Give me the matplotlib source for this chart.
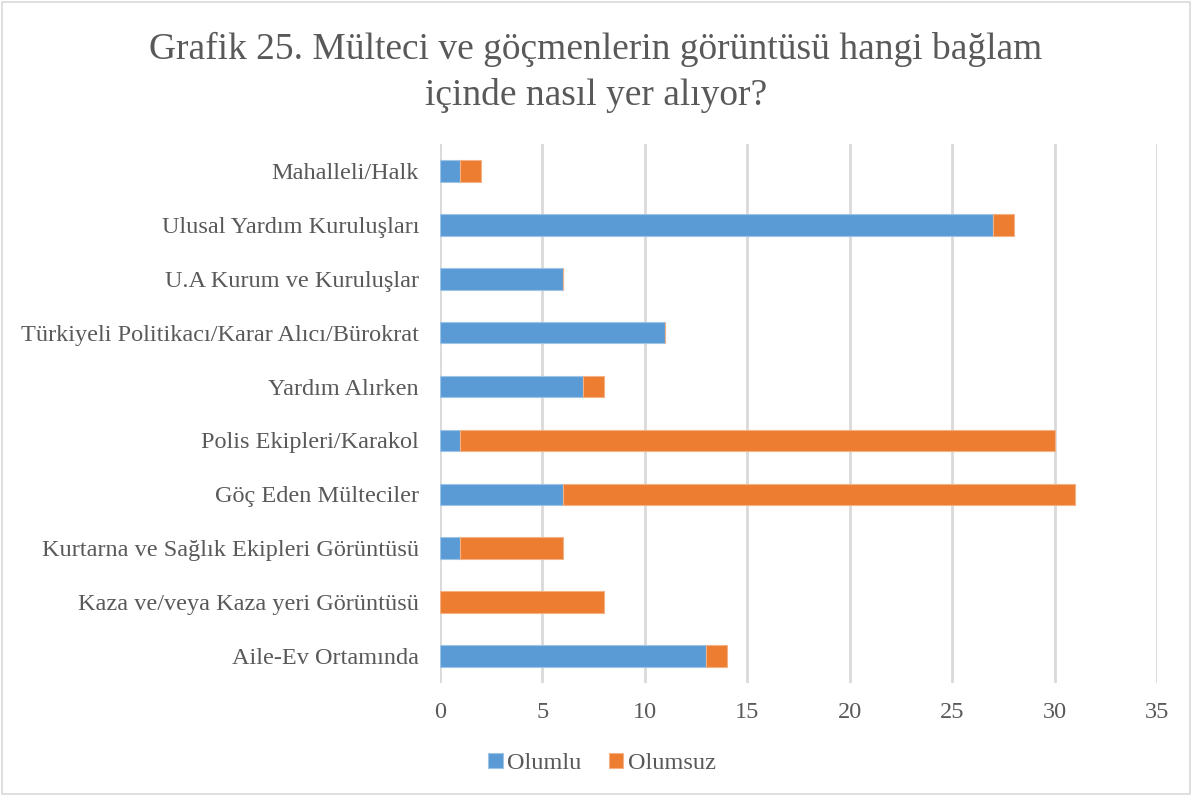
import numpy as np
import matplotlib.pyplot as plt

# Veriler (alttan üste)
kategoriler = ['Aile-Ev Ortamında', 'Kaza ve/veya Kaza yeri Görüntüsü',
               'Kurtarna ve Sağlık Ekipleri Görüntüsü', 'Göç Eden Mülteciler',
               'Polis Ekipleri/Karakol', 'Yardım Alırken',
               'Türkiyeli Politikacı/Karar Alıcı/Bürokrat', 'U.A Kurum ve Kuruluşlar',
               'Ulusal Yardım Kuruluşları', 'Mahalleli/Halk']
olumlu = [13, 0, 1, 6, 1, 7, 11, 6, 27, 1]
olumsuz = [1, 8, 5, 25, 29, 1, 0, 0, 1, 1]

plt.rcParams['font.family'] = ['Liberation Serif', 'DejaVu Serif']
metin_renk = '#595959'

fig = plt.figure(figsize=(11.92, 7.96), dpi=100)
ax = fig.add_axes([0.369, 0.142, 0.6016, 0.677])

y = np.arange(len(kategoriler))
ax.barh(y, olumlu, height=0.4, color='#5B9BD5', edgecolor='#9DC3E6', linewidth=0.8, label='Olumlu', zorder=3)
ax.barh(y, olumsuz, left=olumlu, height=0.4, color='#ED7D31', edgecolor='#F4B183', linewidth=0.8, label='Olumsuz', zorder=3)

ax.set_xlim(0, 35)
ax.set_ylim(-0.5, len(kategoriler) - 0.5)
ax.set_xticks(range(0, 36, 5))
ax.set_yticks(y)
ax.set_yticklabels(kategoriler)
ax.tick_params(axis='both', length=0, labelsize=17.5, colors=metin_renk)
ax.tick_params(axis='y', pad=15)
ax.tick_params(axis='x', pad=14)
ax.grid(axis='x', color='#D9D9D9', linewidth=2, zorder=0)
for s in ax.spines.values():
    s.set_visible(False)

fig.suptitle('Grafik 25. Mülteci ve göçmenlerin görüntüsü hangi bağlam\niçinde nasıl yer alıyor?',
             fontsize=27, color=metin_renk, y=0.96, linespacing=1.4)

leg = fig.legend(loc='center', bbox_to_anchor=(0.505, 0.041), ncol=2, frameon=False,
                 fontsize=17.5, handlelength=0.6, handleheight=0.6, columnspacing=1.1, handletextpad=0.2)
for t in leg.get_texts():
    t.set_color(metin_renk)

# çerçeve
fig.patches.append(plt.Rectangle((0.002, 0.002), 0.996, 0.996, transform=fig.transFigure,
                                 fill=False, edgecolor='#D9D9D9', linewidth=1.2))

fig.savefig('out.png', dpi=100)
